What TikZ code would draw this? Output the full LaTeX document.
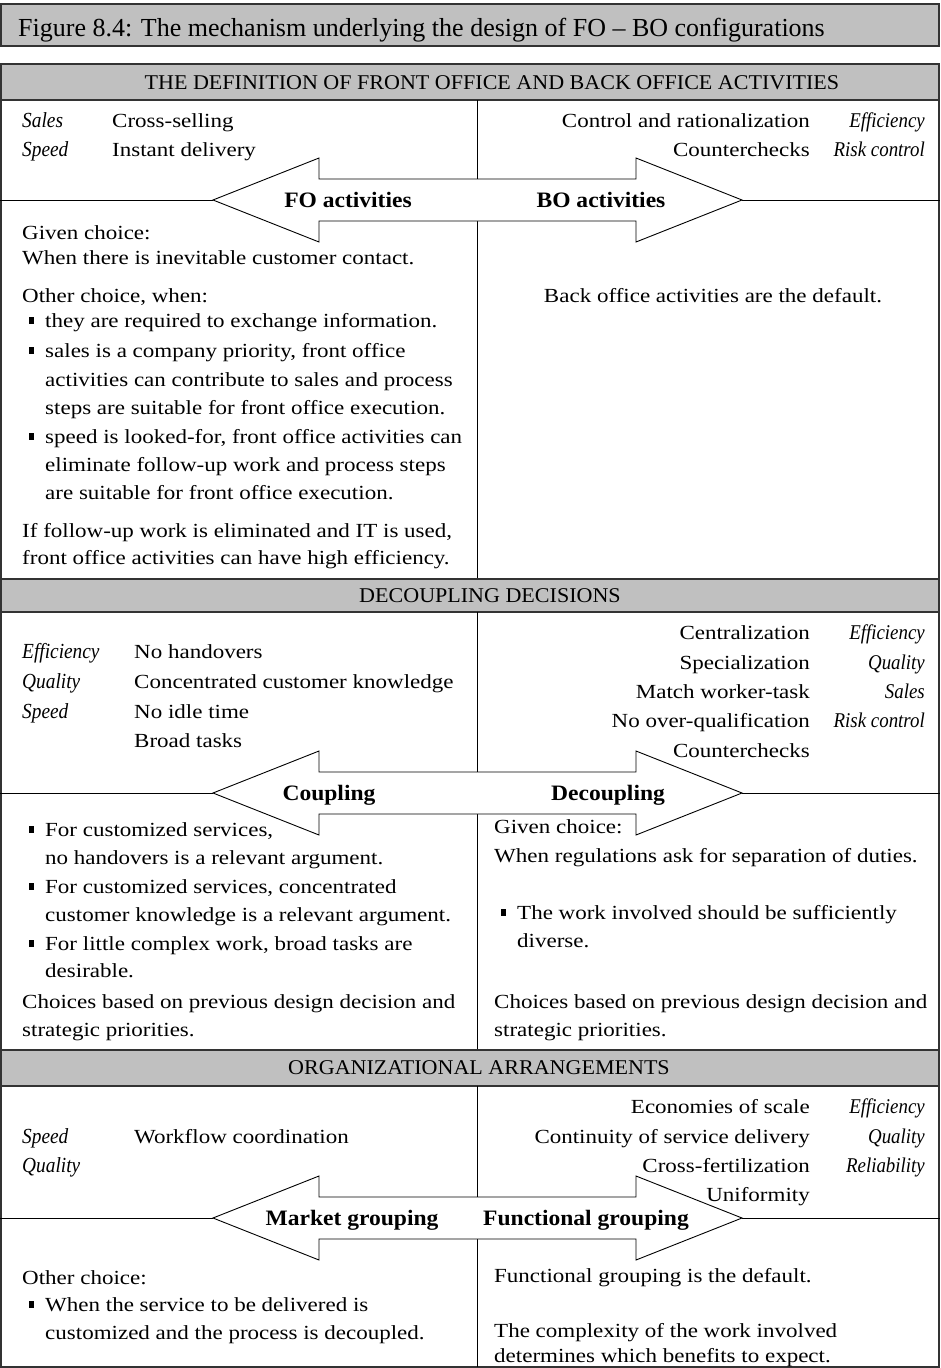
\documentclass[tikz,border=0pt]{standalone}
\usepackage{fontspec}
\setmainfont{Liberation Serif}
\newfontfamily\bodyf[FakeStretch=1.15]{Liberation Serif}
\newfontfamily\lblf[FakeStretch=1.07]{Liberation Serif}
\newfontfamily\hdrf[FakeStretch=1.05]{Liberation Serif}
\newfontfamily\itf[FakeStretch=0.9]{Liberation Serif}
\definecolor{hdrgray}{RGB}{192,192,192}
\newcommand\bulmark{\makebox[0pt][r]{\rule[3.5pt]{5.5pt}{7pt}\hspace{11pt}}}
\newcommand\dblarrow[1]{%
  \draw[thin line] (0,#1) -- (213,#1);
  \draw[thin line] (742,#1) -- (940,#1);
  \draw[thin line, fill=white] (213,#1) -- ++(106,-42) -- ++(0,21) -- ++(317,0) -- ++(0,-21) -- ++(106,42) -- ++(-106,42) -- ++(0,-21) -- ++(-317,0) -- ++(0,21) -- cycle;
}
\begin{document}
\begin{tikzpicture}[x=1pt,y=-1pt,
  thin line/.style={line width=0.9pt, draw=black},
  thick line/.style={line width=1.8pt, draw=black!80},
  hdr/.style={thick line, fill=hdrgray},
  txt/.style={anchor=base west, inner sep=0pt, font=\fontsize{20}{24}\bodyf},
  rtxt/.style={anchor=base east, inner sep=0pt, font=\fontsize{20}{24}\bodyf},
  ctxt/.style={anchor=base, inner sep=0pt, font=\fontsize{20}{24}\bodyf},
  itx/.style={anchor=base west, inner sep=0pt, font=\fontsize{21.5}{24}\itf\itshape},
  ritx/.style={anchor=base east, inner sep=0pt, font=\fontsize{21}{24}\itf\itshape},
  albl/.style={anchor=base, inner sep=0pt, font=\fontsize{22}{26}\lblf\bfseries},
  htxt/.style={anchor=center, inner sep=0pt, font=\fontsize{21}{24}\hdrf},
]
\useasboundingbox (0,0) rectangle (940,1368);
\fill[white] (0,0) rectangle (940,1368);

% title
\draw[hdr] (1,4) rectangle (939,46);
\node[anchor=base west, inner sep=0pt, font=\fontsize{26}{30}\selectfont] (title) at (18,36) {Figure 8.4: The mechanism underlying the design of FO -- BO configurations};

% frame
\draw[thick line] (1,64) rectangle (939,1367);

% ---------- section 1 ----------
\draw[hdr] (1,64) rectangle (939,100);
\node[htxt] (h1) at (492,83) {THE DEFINITION OF FRONT OFFICE AND BACK OFFICE ACTIVITIES};
\draw[thin line] (477,100) -- (477,179);
\draw[thin line] (477,221) -- (477,579);
\dblarrow{200}
\node[albl] (fo) at (348,207) {FO activities};
\node[albl] (bo) at (601,207) {BO activities};

\node[itx] (s1a) at (22,127) {Sales};
\node[txt] (s1b) at (112,127) {Cross-selling};
\node[itx] (s1c) at (22,156) {Speed};
\node[txt] (s1d) at (112,156) {Instant delivery};
\node[rtxt] (s1e) at (810,127) {Control and rationalization};
\node[ritx] (s1f) at (925,127) {Efficiency};
\node[rtxt] (s1g) at (810,156) {Counterchecks};
\node[ritx] (s1h) at (925,156) {Risk control};

\node[txt] (l1) at (22,239) {Given choice:};
\node[txt] (l2) at (22,264) {When there is inevitable customer contact.};
\node[txt] (l3) at (22,302) {Other choice, when:};
\node[txt] (l4) at (45,327) {\bulmark they are required to exchange information.};
\node[txt] (l5) at (45,357) {\bulmark sales is a company priority, front office};
\node[txt] (l6) at (45,386) {activities can contribute to sales and process};
\node[txt] (l7) at (45,414) {steps are suitable for front office execution.};
\node[txt] (l8) at (45,443) {\bulmark speed is looked-for, front office activities can};
\node[txt] (l9) at (45,471) {eliminate follow-up work and process steps};
\node[txt] (l10) at (45,499) {are suitable for front office execution.};
\node[txt] (l11) at (22,537) {If follow-up work is eliminated and IT is used,};
\node[txt] (l12) at (22,564) {front office activities can have high efficiency.};
\node[ctxt] (r1) at (713,302) {Back office activities are the default.};

% ---------- section 2 ----------
\draw[hdr] (1,579) rectangle (939,612);
\node[htxt] (h2) at (490,596) {DECOUPLING DECISIONS};
\draw[thin line] (477,612) -- (477,772);
\draw[thin line] (477,814) -- (477,1050);
\dblarrow{793}
\node[albl] (cp) at (329,800) {Coupling};
\node[albl] (dc) at (608,800) {Decoupling};

\node[itx] (s2a) at (22,658) {Efficiency};
\node[txt] (s2b) at (134,658) {No handovers};
\node[itx] (s2c) at (22,688) {Quality};
\node[txt] (s2d) at (134,688) {Concentrated customer knowledge};
\node[itx] (s2e) at (22,718) {Speed};
\node[txt] (s2f) at (134,718) {No idle time};
\node[txt] (s2g) at (134,747) {Broad tasks};
\node[rtxt] (s2h) at (810,639) {Centralization};
\node[ritx] (s2i) at (925,639) {Efficiency};
\node[rtxt] (s2j) at (810,669) {Specialization};
\node[ritx] (s2k) at (925,669) {Quality};
\node[rtxt] (s2l) at (810,698) {Match worker-task};
\node[ritx] (s2m) at (925,698) {Sales};
\node[rtxt] (s2n) at (810,727) {No over-qualification};
\node[ritx] (s2o) at (925,727) {Risk control};
\node[rtxt] (s2p) at (810,757) {Counterchecks};

\node[txt] (m1) at (45,836) {\bulmark For customized services,};
\node[txt] (m2) at (45,864) {no handovers is a relevant argument.};
\node[txt] (m3) at (45,893) {\bulmark For customized services, concentrated};
\node[txt] (m4) at (45,921) {customer knowledge is a relevant argument.};
\node[txt] (m5) at (45,950) {\bulmark For little complex work, broad tasks are};
\node[txt] (m6) at (45,977) {desirable.};
\node[txt] (m7) at (22,1008) {Choices based on previous design decision and};
\node[txt] (m8) at (22,1036) {strategic priorities.};
\node[txt] (n1) at (494,833) {Given choice:};
\node[txt] (n2) at (494,862) {When regulations ask for separation of duties.};
\node[txt] (n3) at (517,919) {\bulmark The work involved should be sufficiently};
\node[txt] (n4) at (517,947) {diverse.};
\node[txt] (n5) at (494,1008) {Choices based on previous design decision and};
\node[txt] (n6) at (494,1036) {strategic priorities.};

% ---------- section 3 ----------
\draw[hdr] (1,1050) rectangle (939,1086);
\node[htxt] (h3) at (479,1068) {ORGANIZATIONAL ARRANGEMENTS};
\draw[thin line] (477,1086) -- (477,1197);
\draw[thin line] (477,1239) -- (477,1367);
\dblarrow{1218}
\node[albl] (mg) at (352,1225) {Market grouping};
\node[albl] (fg) at (586,1225) {Functional grouping};

\node[itx] (s3a) at (22,1143) {Speed};
\node[txt] (s3b) at (134,1143) {Workflow coordination};
\node[itx] (s3c) at (22,1172) {Quality};
\node[rtxt] (s3d) at (810,1113) {Economies of scale};
\node[ritx] (s3e) at (925,1113) {Efficiency};
\node[rtxt] (s3f) at (810,1143) {Continuity of service delivery};
\node[ritx] (s3g) at (925,1143) {Quality};
\node[rtxt] (s3h) at (810,1172) {Cross-fertilization};
\node[ritx] (s3i) at (925,1172) {Reliability};
\node[rtxt] (s3j) at (810,1201) {Uniformity};

\node[txt] (o1) at (22,1284) {Other choice:};
\node[txt] (o2) at (45,1311) {\bulmark When the service to be delivered is};
\node[txt] (o3) at (45,1339) {customized and the process is decoupled.};
\node[txt] (p1) at (494,1282) {Functional grouping is the default.};
\node[txt] (p2) at (494,1337) {The complexity of the work involved};
\node[txt] (p3) at (494,1362) {determines which benefits to expect.};
\end{tikzpicture}
\end{document}
